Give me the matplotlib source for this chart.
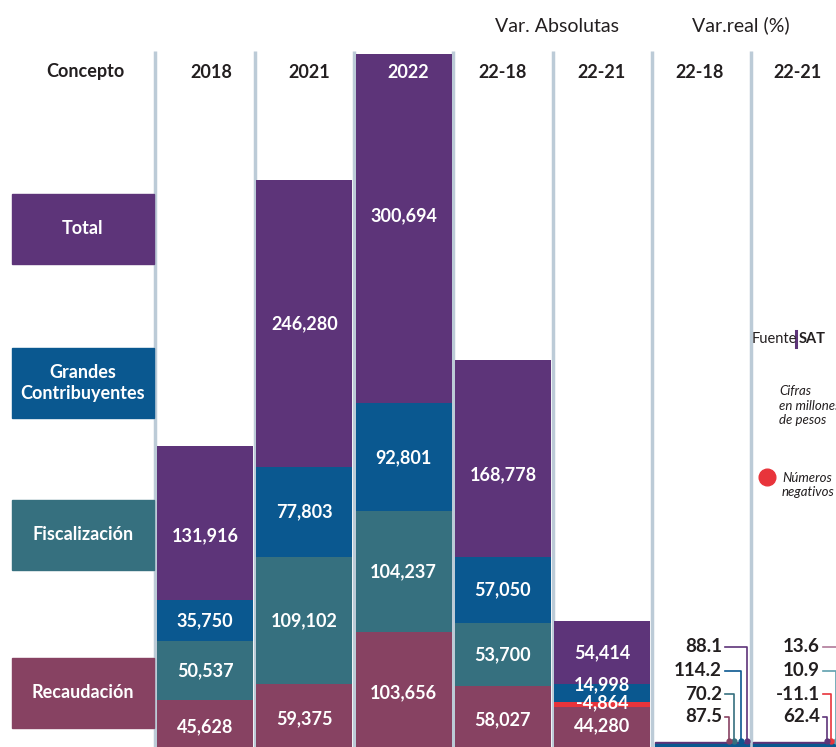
import matplotlib.pyplot as plt
from matplotlib.patches import Rectangle

plt.rcParams['font.family'] = ['Lato', 'DejaVu Sans']

# data (millones de pesos)
columnas = ['2018', '2021', '2022', '22-18', '22-21']
conceptos = ['Recaudación', 'Fiscalización', 'Grandes\nContribuyentes', 'Total']
recaudacion = [45628, 59375, 103656, 58027, 44280]
fiscalizacion = [50537, 109102, 104237, 53700, -4864]
grandes = [35750, 77803, 92801, 57050, 14998]
total = [131916, 246280, 300694, 168778, 54414]
pct_labels = ['22-18', '22-21']
var_real_22_18 = [88.1, 114.2, 70.2, 87.5]   # Total, Grandes, Fisc., Recaud.
var_real_22_21 = [13.6, 10.9, -11.1, 62.4]

purple = '#5d3479'
blue = '#0a5890'
teal = '#36707f'
maroon = '#874262'
red = '#e8343b'
sep = '#bccbd7'
dark = '#231f20'
colores = [maroon, teal, blue, purple]

fig = plt.figure(figsize=(8.36, 7.47), dpi=100)
ax = fig.add_axes([0, 0, 1, 1])
ax.set_xlim(-2.0644, 6.3545)
ax.set_ylim(5159, 647463)
ax.axis('off')

# column separators
for k in range(7):
    ax.vlines(k - 0.5, 0, 603600, color=sep, lw=2.5, zorder=1)

# stacked bars (negative values drawn downward from the stack top in red)
x = list(range(len(columnas)))
series = [recaudacion, fiscalizacion, grandes, total]
bottoms = [0] * len(x)
centers = [[0] * len(x) for _ in series]
for s, (vals, col) in enumerate(zip(series, colores)):
    for i, v in enumerate(vals):
        if v < 0:
            ax.bar(i, -v, bottom=bottoms[i] + v, width=0.967, color=red, zorder=4)
            centers[s][i] = bottoms[i] + v / 2
        else:
            ax.bar(i, v, bottom=bottoms[i], width=0.967, color=col, zorder=3)
            centers[s][i] = bottoms[i] + v / 2
            bottoms[i] += v

# label nudges in points (up positive)
nudge = {(3, 0): -9, (3, 2): 9, (3, 3): -12, (0, 4): 1, (1, 4): 1, (2, 4): 6}
for s, vals in enumerate(series):
    for i, v in enumerate(vals):
        ax.annotate(f"{v:,}", (i, centers[s][i]), xytext=(0, nudge.get((s, i), 0)),
                    textcoords='offset points', ha='center', va='center',
                    color='white', fontsize=13, fontweight='bold', zorder=6)

# overlay in pixel coordinates for the table decoration
ov = fig.add_axes([0, 0, 1, 1])
ov.set_xlim(0, 836)
ov.set_ylim(747, 0)
ov.axis('off')
ov.patch.set_alpha(0)

# concept boxes
box_tops = [658, 500, 348, 194]
for name, col, top in zip(conceptos, colores, box_tops):
    ov.add_patch(Rectangle((12, top), 142, 70, color=col))
    ov.text(83, top + 35, name, ha='center', va='center', color='white',
            fontsize=13, fontweight='bold', linespacing=1.35)

# header row
head_x = [85, 211, 309, 408, 503, 601, 700, 797]
head_t = ['Concepto'] + columnas + pct_labels
for hx, ht in zip(head_x, head_t):
    ov.text(hx, 72, ht, ha='center', va='center', fontsize=13, fontweight='bold',
            color='white' if ht == '2022' else dark)
ov.text(557, 27, 'Var. Absolutas', ha='center', va='center', fontsize=14, color=dark)
ov.text(741, 25, 'Var.real (%)', ha='center', va='center', fontsize=14, color=dark)

# thin strips at the bottom of the % columns
for x0, x1 in [(655, 749), (753, 840)]:
    ov.add_patch(Rectangle((x0, 741.5), x1 - x0, 2, color=purple, zorder=3))
    ov.add_patch(Rectangle((x0, 743.5), x1 - x0, 4, color=blue, zorder=3))

# % labels with connectors
rows_y = [647, 671, 694, 717]
groups = [
    (var_real_22_18, 722, [746.5, 740.5, 734.3, 729.3], [purple, blue, teal, maroon]),
    (var_real_22_21, 820, [840, 835.5, 831, 826.7], ['#b07a99', '#5f9fae', red, purple]),
]
for vals, xr, vx, cols in groups:
    for v, y, lx, c in zip(vals, rows_y, vx, cols):
        ov.text(xr, y, f"{v}", ha='right', va='center', fontsize=13.5,
                fontweight='bold', color=dark)
        ov.plot([xr + 3, lx, lx], [y, y, 742], color=c, lw=1.2, zorder=4)
        ov.plot(lx, 741, 'o', color=c, ms=3.5, zorder=5)

# side notes
ov.text(752, 339, 'Fuente', ha='left', va='center', fontsize=10.5, color=dark)
ov.plot([796, 796], [331, 347], color=purple, lw=2.2)
ov.text(799, 339, 'SAT', ha='left', va='center', fontsize=10.5, fontweight='bold', color=dark)
ov.text(779, 406, 'Cifras\nen millones\nde pesos', ha='left', va='center', fontsize=9.5,
        style='italic', color=dark, linespacing=1.25)
ov.plot(767, 477, 'o', color=red, ms=12)
ov.text(782, 485, 'Números\nnegativos', ha='left', va='center', fontsize=9.5,
        style='italic', color=dark, linespacing=1.3)

plt.savefig('out.png', dpi=100)
